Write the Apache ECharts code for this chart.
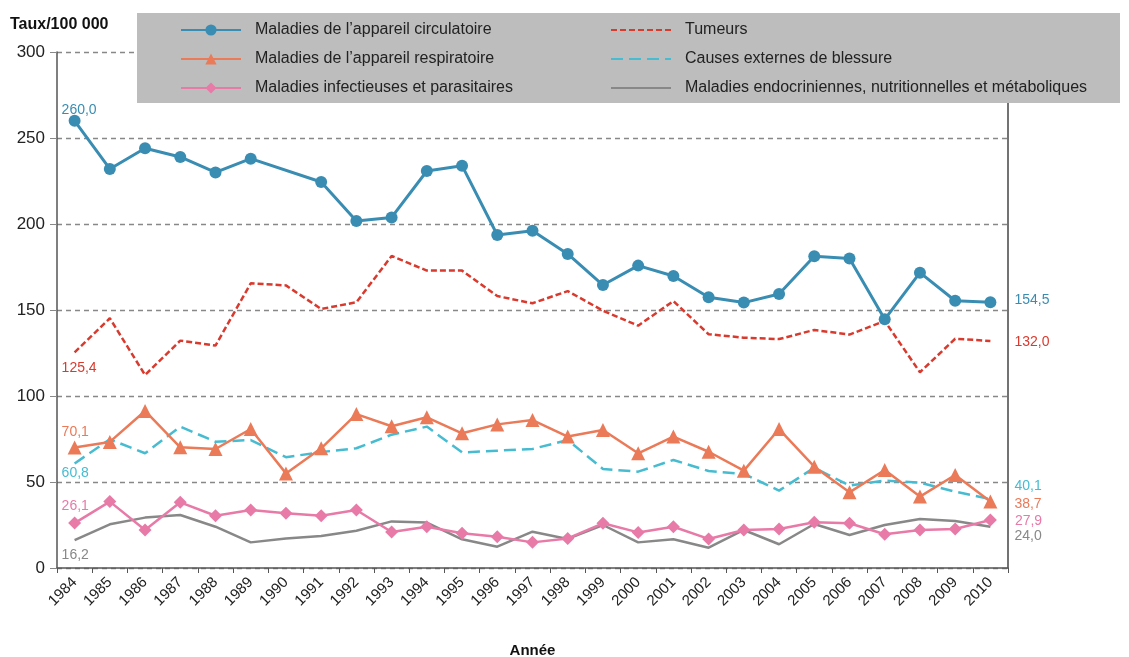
<!DOCTYPE html>
<html>
<head>
<meta charset="utf-8">
<script src="https://cdn.jsdelivr.net/npm/echarts@6/dist/echarts.min.js"></script>
<style>
  html, body { margin: 0; padding: 0; background: #fff; }
  #main { width: 1129px; height: 657px; }
</style>
</head>
<body>
<div id="main"></div>
<script>
// années
var annees = ['1984','1985','1986','1987','1988','1989','1990','1991','1992','1993','1994','1995','1996','1997','1998','1999','2000','2001','2002','2003','2004','2005','2006','2007','2008','2009','2010'];

// taux pour 100 000
var circulatoire = [260.0, 232, 244, 239, 230, 238, null, 224.4, 201.7, 203.8, 230.8, 233.9, 193.6, 196.1, 182.6, 164.5, 175.8, 169.8, 157.4, 154.3, 159.3, 181.2, 180, 144.6, 171.7, 155.4, 154.5];
var tumeurs = [125.4, 145.2, 112.2, 132.2, 129.3, 165.5, 164.3, 150.6, 154.5, 181.4, 172.9, 172.9, 158.1, 153.9, 161, 149.6, 140.9, 155.2, 135.9, 133.9, 133.1, 138.4, 135.7, 143.6, 113.8, 133.3, 132.0];
var respiratoire = [70.1, 73.3, 91.3, 70.2, 69.2, 80.8, 55.0, 69.6, 89.5, 82.4, 87.6, 78.3, 83.5, 86.0, 76.4, 80.2, 66.7, 76.4, 67.6, 56.6, 80.8, 58.9, 44.0, 57.0, 41.5, 54.1, 38.7];
var blessures = [60.8, 74.8, 66.7, 82.2, 73.4, 74.4, 64.4, 67.4, 69.6, 77.5, 82.2, 67.2, 68.2, 69.2, 74.4, 57.6, 56.0, 62.8, 56.4, 54.7, 45.0, 58.3, 47.9, 50.8, 49.6, 44.4, 40.1];
var infectieuses = [26.1, 38.6, 22.1, 38.2, 30.4, 33.7, 31.8, 30.4, 33.7, 20.9, 24.0, 20.2, 18.2, 14.9, 17.2, 26.0, 20.7, 24.0, 16.9, 22.1, 22.7, 26.6, 26.0, 19.6, 22.1, 22.7, 27.9];
var endocriniennes = [16.2, 25.4, 29.3, 30.8, 24.0, 14.9, 17.2, 18.6, 21.7, 27.1, 26.4, 16.7, 12.4, 21.1, 16.9, 25.0, 14.9, 16.7, 11.8, 22.1, 13.8, 25.6, 19.2, 25.0, 28.5, 27.3, 24.0];

var ticksY = [0, 50, 100, 150, 200, 250, 300];

var police = '"Liberation Sans Narrow", "Liberation Sans", Arial, sans-serif';

function fmt(v) {
  return v.toFixed(1).replace('.', ',');
}

// étiquettes au premier et au dernier point
function avecEtiquettes(valeurs, couleur, posDebut, distDebut, distFin, decalFin) {
  return valeurs.map(function (v, i) {
    if (i === 0) {
      return { value: v, label: { show: true, position: posDebut, distance: distDebut, align: 'left', offset: [-13, 0], color: couleur, fontSize: 14, fontFamily: police, formatter: fmt(v) } };
    }
    if (i === valeurs.length - 1) {
      return { value: v, label: { show: true, position: 'right', distance: distFin, offset: [0, decalFin], color: couleur, fontSize: 14, fontFamily: police, formatter: fmt(v) } };
    }
    return v;
  });
}

var chart = echarts.init(document.getElementById('main'));

var legendeTexte = { fontSize: 16, color: '#222', fontFamily: police, padding: [0, 0, 0, 9] };

var option = {
  animation: false,
  textStyle: { fontFamily: police },
  grid: { left: 57, right: 121, top: 52, bottom: 89, outerBoundsMode: 'none', containLabel: false },
  graphic: [
    { type: 'rect', z: 3, shape: { x: 137, y: 13, width: 983, height: 90 }, style: { fill: '#bdbdbd' } },
    { type: 'text', left: 10, top: 17, style: { text: 'Taux/100 000', font: 'bold 16px ' + police, fill: '#111' } }
  ],
  legend: [
    {
      z: 5, orient: 'vertical', left: 175, top: 17, itemWidth: 60, itemHeight: 14, itemGap: 13,
      textStyle: legendeTexte,
      data: ['Maladies de l\u2019appareil circulatoire', 'Maladies de l\u2019appareil respiratoire', 'Maladies infectieuses et parasitaires']
    },
    {
      z: 5, orient: 'vertical', left: 605, top: 17, itemWidth: 60, itemHeight: 14, itemGap: 13,
      textStyle: legendeTexte,
      data: [
        { name: 'Tumeurs', itemStyle: { opacity: 0 } },
        { name: 'Causes externes de blessure', itemStyle: { opacity: 0 } },
        { name: 'Maladies endocriniennes, nutritionnelles et m\u00e9taboliques', itemStyle: { opacity: 0 } }
      ]
    }
  ],
  xAxis: {
    type: 'category',
    data: annees,
    boundaryGap: true,
    name: 'Ann\u00e9e',
    nameLocation: 'middle',
    nameGap: 75,
    nameTextStyle: { fontSize: 15, fontWeight: 'bold', color: '#111', fontFamily: police },
    axisLine: { lineStyle: { color: '#555', width: 1.5 } },
    axisTick: { show: true, alignWithLabel: false, length: 5, lineStyle: { color: '#555' } },
    axisLabel: { rotate: 45, fontSize: 15, color: '#222', margin: 12, interval: 0, fontFamily: police }
  },
  yAxis: [
    {
      type: 'value', min: 0, max: 300, interval: 50,
      axisLine: { show: true, lineStyle: { color: '#555', width: 1.5 } },
      axisTick: { show: true, length: 7, lineStyle: { color: '#888' } },
      axisLabel: {
        fontSize: 17, color: '#222', margin: 12, fontFamily: police,
        formatter: function (v) { return ticksY.indexOf(v) >= 0 ? String(v) : ''; }
      },
      splitLine: { show: true, lineStyle: { color: '#888', type: [5, 4], width: 1.3 } }
    },
    {
      type: 'value', min: 0, max: 300, interval: 50, position: 'right',
      axisLine: { show: true, lineStyle: { color: '#444', width: 1.5 } },
      axisTick: { show: false }, axisLabel: { show: false }, splitLine: { show: false }
    }
  ],
  series: [
    {
      name: 'Maladies de l\u2019appareil circulatoire', type: 'line', z: 6,
      data: avecEtiquettes(circulatoire, '#3a8db2', 'top', -2, 18, -2),
      connectNulls: true,
      symbol: 'circle', symbolSize: 12,
      itemStyle: { color: '#3a8db2' },
      lineStyle: { color: '#3a8db2', width: 3 }
    },
    {
      name: 'Tumeurs', type: 'line', z: 5,
      data: avecEtiquettes(tumeurs, '#d93a2e', 'bottom', 9, 24, 1),
      symbol: 'circle', symbolSize: 0.1,
      itemStyle: { color: '#d93a2e' },
      lineStyle: { color: '#d93a2e', width: 2.5, type: [6, 3] }
    },
    {
      name: 'Maladies de l\u2019appareil respiratoire', type: 'line', z: 5,
      data: avecEtiquettes(respiratoire, '#ea7a58', 'top', 1, 17, 3),
      symbol: 'triangle', symbolSize: 14,
      itemStyle: { color: '#ea7a58' },
      lineStyle: { color: '#ea7a58', width: 2.5 }
    },
    {
      name: 'Causes externes de blessure', type: 'line', z: 4,
      data: avecEtiquettes(blessures, '#47bcd1', 'bottom', 3, 24, -13),
      symbol: 'circle', symbolSize: 0.1,
      itemStyle: { color: '#47bcd1' },
      lineStyle: { color: '#47bcd1', width: 2.5, type: [12, 6] }
    },
    {
      name: 'Maladies infectieuses et parasitaires', type: 'line', z: 5,
      data: avecEtiquettes(infectieuses, '#e87aa8', 'top', 3, 18, 1),
      symbol: 'diamond', symbolSize: 13,
      itemStyle: { color: '#e87aa8' },
      lineStyle: { color: '#e87aa8', width: 2.5 }
    },
    {
      name: 'Maladies endocriniennes, nutritionnelles et m\u00e9taboliques', type: 'line', z: 4,
      data: avecEtiquettes(endocriniennes, '#888888', 'bottom', 8, 24, 9),
      symbol: 'circle', symbolSize: 0.1,
      itemStyle: { color: '#888888' },
      lineStyle: { color: '#888888', width: 2.5 }
    }
  ]
};

chart.setOption(option);
</script>
</body>
</html>
